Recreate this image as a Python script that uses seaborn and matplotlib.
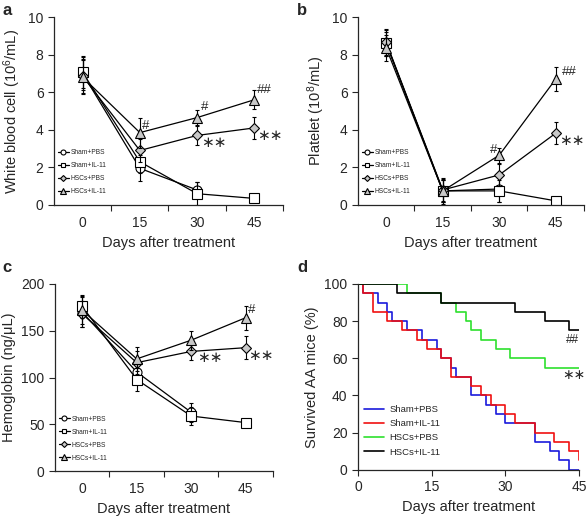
import numpy as np
import pandas as pd
import seaborn as sns
import matplotlib.pyplot as plt
from matplotlib.ticker import MultipleLocator, FixedLocator

# ---- data ----
days = [0, 15, 30, 45]
groups = ['Sham+PBS', 'Sham+IL-11', 'HSCs+PBS', 'HSCs+IL-11']

# white blood cell (10^6/mL)
wbc_sham_pbs = [7.0, 1.95, 0.8, np.nan]
wbc_sham_il11 = [7.05, 2.3, 0.6, 0.35]
wbc_hsc_pbs = [6.85, 2.9, 3.7, 4.1]
wbc_hsc_il11 = [6.8, 3.85, 4.65, 5.6]
wbc_err = [[0.9, 0.7, 0.4, np.nan], [0.8, 0.6, 0.6, 0.05],
           [0.9, 0.6, 0.5, 0.6], [0.9, 0.8, 0.4, 0.5]]

# platelet (10^8/mL)
plt_sham_pbs = [8.6, 0.75, 0.85, np.nan]
plt_sham_il11 = [8.6, 0.75, 0.75, 0.22]
plt_hsc_pbs = [8.65, 0.8, 1.6, 3.82]
plt_hsc_il11 = [8.35, 0.75, 2.65, 6.7]
plt_err = [[0.7, 0.7, 0.7, np.nan], [0.6, 0.6, 0.6, 0.05],
           [0.7, 0.6, 0.6, 0.6], [0.7, 0.6, 0.4, 0.65]]

# hemoglobin (ng/uL)
hb_sham_pbs = [170, 106, 63, np.nan]
hb_sham_il11 = [176, 98, 59, 52]
hb_hsc_pbs = [168, 116, 128, 132]
hb_hsc_il11 = [172, 120, 140, 164]
hb_err = [[16, 10, 10, np.nan], [12, 12, 10, 2],
          [14, 12, 9, 12], [15, 13, 10, 13]]

# survival (% alive), step changes
surv_sham_pbs_t = [0, 1, 4, 6, 7, 10, 13, 16, 17, 19, 20, 23, 26, 28, 30, 36, 39, 41, 43, 45]
surv_sham_pbs_v = [100, 95, 90, 85, 80, 75, 70, 65, 60, 55, 50, 40, 35, 30, 25, 15, 10, 5, 0, 0]
surv_sham_il11_t = [0, 1, 3, 6, 9, 12, 14, 17, 19, 23, 25, 27, 30, 32, 36, 40, 43, 45]
surv_sham_il11_v = [100, 95, 85, 80, 75, 70, 65, 60, 50, 45, 40, 35, 30, 25, 20, 15, 10, 5]
surv_hsc_pbs_t = [0, 10, 17, 20, 22, 23, 25, 28, 31, 38, 45]
surv_hsc_pbs_v = [100, 95, 90, 85, 80, 75, 70, 65, 60, 55, 55]
surv_hsc_il11_t = [0, 8, 17, 32, 38, 43, 45]
surv_hsc_il11_v = [100, 95, 90, 85, 80, 75, 75]

sns.set_style('ticks')
plt.rcParams['font.family'] = ['Liberation Sans', 'DejaVu Sans']
plt.rcParams['mathtext.default'] = 'regular'

fig = plt.figure(figsize=(5.88, 5.17), dpi=100)
ax_a = fig.add_axes([0.0918, 0.6035, 0.3895, 0.3636])
ax_b = fig.add_axes([0.6088, 0.6035, 0.3844, 0.3636])
ax_c = fig.add_axes([0.0935, 0.0884, 0.3707, 0.3623])
ax_d = fig.add_axes([0.6088, 0.0915, 0.3759, 0.3592])

styles = [('o', 'white'), ('s', 'white'), ('D', '#c8c8c8'), ('^', '#c8c8c8')]
msizes = [6.5, 6.5, 5.5, 7]
STARS = '\u2217\u2217'


def mark(ax, x, y, s, size=None):
    if s == '**':
        ax.text(x, y, STARS, fontsize=size or 11, family='DejaVu Sans',
                va='center', ha='left')
    else:
        ax.text(x, y, s, fontsize=size or 9.5, va='center', ha='left')


def time_panel(ax, series, errs, ylim, ystep, ylabel):
    for name, vals, err, (mk, fc), ms in zip(groups, series, errs, styles, msizes):
        df = pd.DataFrame({'day': days, 'val': vals}).dropna()
        ax.errorbar(days, vals, yerr=err, fmt='none', ecolor='black',
                    elinewidth=0.8, capsize=1.5, capthick=0.8)
        sns.lineplot(data=df, x='day', y='val', ax=ax, color='black', lw=0.9,
                     marker=mk, markerfacecolor=fc, markeredgecolor='black',
                     markeredgewidth=0.8, markersize=ms, label=name)
    ax.set_xlim(-7.5, 52.5)
    ax.set_ylim(*ylim)
    ax.xaxis.set_major_locator(FixedLocator(days))
    ax.xaxis.set_minor_locator(FixedLocator([7.5, 22.5, 37.5, 52.5]))
    ax.tick_params(axis='x', which='major', length=0, labelsize=10, pad=8)
    ax.tick_params(axis='x', which='minor', length=4, width=0.8, direction='out')
    ax.yaxis.set_major_locator(MultipleLocator(ystep))
    ax.tick_params(axis='y', length=4, width=0.8, labelsize=10)
    ax.set_xlabel('Days after treatment', fontsize=10.5)
    ax.set_ylabel(ylabel, fontsize=10.5)
    sns.despine(ax=ax)
    for s in ['left', 'bottom']:
        ax.spines[s].set_linewidth(0.9)
    ax.legend(loc='lower left', bbox_to_anchor=(0.0, 0.03), frameon=False,
              fontsize=4.8, markerscale=0.55, handlelength=1.6,
              labelspacing=0.9, handletextpad=0.3, borderaxespad=0.2)


time_panel(ax_a, [wbc_sham_pbs, wbc_sham_il11, wbc_hsc_pbs, wbc_hsc_il11], wbc_err,
           (0, 10), 2, 'White blood cell (10$^{6}$/mL)')
mark(ax_a, 15.6, 4.2, '#')
mark(ax_a, 30.9, 5.2, '#')
mark(ax_a, 45.6, 6.1, '##')
mark(ax_a, 31.0, 3.3, '**')
mark(ax_a, 45.7, 3.7, '**')

time_panel(ax_b, [plt_sham_pbs, plt_sham_il11, plt_hsc_pbs, plt_hsc_il11], plt_err,
           (0, 10), 2, 'Platelet (10$^{8}$/mL)')
mark(ax_b, 27.4, 2.9, '#')
mark(ax_b, 46.6, 7.05, '##')
mark(ax_b, 45.8, 3.45, '**')

time_panel(ax_c, [hb_sham_pbs, hb_sham_il11, hb_hsc_pbs, hb_hsc_il11], hb_err,
           (0, 200), 50, 'Hemoglobin (ng/\u03bcL)')
mark(ax_c, 45.7, 172, '#')
mark(ax_c, 31.5, 121.5, '**')
mark(ax_c, 45.7, 123.5, '**')

# survival panel
surv = [(surv_sham_pbs_t, surv_sham_pbs_v, '#1a1adc'),
        (surv_sham_il11_t, surv_sham_il11_v, '#f01010'),
        (surv_hsc_pbs_t, surv_hsc_pbs_v, '#2ee02e'),
        (surv_hsc_il11_t, surv_hsc_il11_v, 'black')]
for name, (t, v, col) in zip(groups, surv):
    sns.lineplot(x=t, y=v, ax=ax_d, color=col, lw=1.2, drawstyle='steps-post',
                 label=name)
ax_d.set_xlim(0, 45)
ax_d.set_ylim(0, 100)
ax_d.xaxis.set_major_locator(FixedLocator(days))
ax_d.yaxis.set_major_locator(MultipleLocator(20))
ax_d.tick_params(length=4, width=0.8, labelsize=10)
ax_d.set_xlabel('Days after treatment', fontsize=10.5)
ax_d.set_ylabel('Survived AA mice (%)', fontsize=10.5)
sns.despine(ax=ax_d)
for s in ['left', 'bottom']:
    ax_d.spines[s].set_linewidth(0.9)
mark(ax_d, 42.3, 70, '##', 8.5)
mark(ax_d, 41.6, 51, '**', 10)
ax_d.legend(loc='lower left', bbox_to_anchor=(0.0, 0.04), frameon=False,
            fontsize=6.8, handlelength=2.2, labelspacing=0.55,
            handletextpad=0.5, borderaxespad=0.2)

for x, y, s in [(0.004, 0.995, 'a'), (0.505, 0.995, 'b'),
                (0.004, 0.497, 'c'), (0.505, 0.497, 'd')]:
    fig.text(x, y, s, fontsize=12, fontweight='bold', va='top')

fig.savefig('out.png', dpi=100)
